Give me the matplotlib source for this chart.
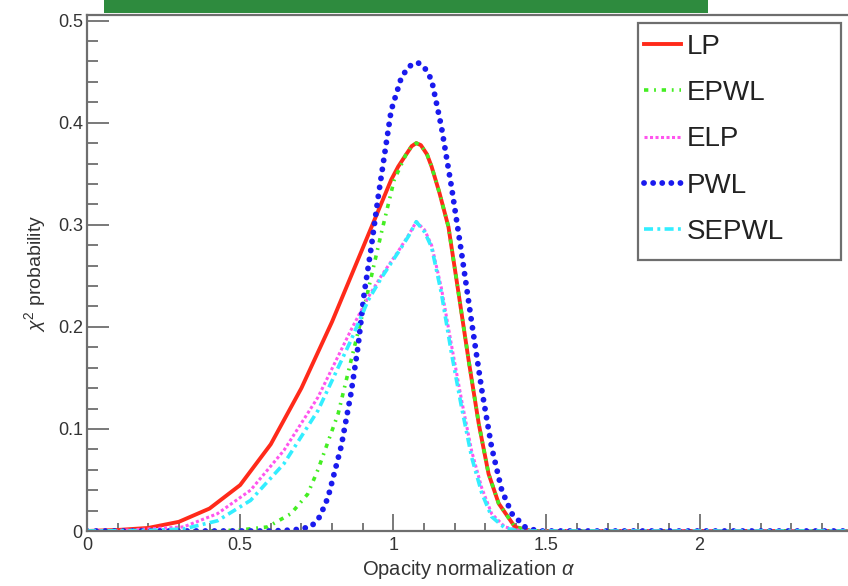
import matplotlib
matplotlib.use("Agg")
import matplotlib.pyplot as plt
from matplotlib.patches import Rectangle
from matplotlib.ticker import MultipleLocator

plt.rcParams['font.family'] = ['Liberation Sans', 'DejaVu Sans']
plt.rcParams['mathtext.fontset'] = 'custom'
plt.rcParams['mathtext.rm'] = 'Liberation Sans'
plt.rcParams['mathtext.it'] = 'Liberation Sans:italic'

# values
lp_x = [0, 0.1, 0.2, 0.3, 0.4, 0.5, 0.6, 0.7, 0.8, 0.9, 0.961, 0.993, 1.016, 1.04, 1.06, 1.075,
        1.09, 1.11, 1.125, 1.15, 1.18, 1.213, 1.246, 1.279, 1.311, 1.344, 1.397, 1.45, 2.5]
lp_y = [0, 0.001, 0.003, 0.009, 0.022, 0.045, 0.085, 0.140, 0.205, 0.277, 0.321, 0.344, 0.357, 0.368, 0.377, 0.380,
        0.378, 0.369, 0.357, 0.332, 0.298, 0.233, 0.167, 0.105, 0.056, 0.027, 0.004, 0.0, 0.0]

epwl_x = [0, 0.4, 0.5, 0.59, 0.666, 0.72, 0.754, 0.82, 0.862, 0.905, 0.961, 1.003, 1.04, 1.06, 1.075,
          1.09, 1.11, 1.125, 1.15, 1.18, 1.213, 1.246, 1.279, 1.311, 1.344, 1.397, 1.45, 2.5]
epwl_y = [0, 0.0, 0.001, 0.004, 0.017, 0.036, 0.060, 0.115, 0.167, 0.219, 0.292, 0.344, 0.368, 0.377, 0.380,
          0.378, 0.369, 0.357, 0.332, 0.298, 0.233, 0.167, 0.105, 0.056, 0.027, 0.004, 0.0, 0.0]

elp_x = [0, 0.1, 0.2, 0.315, 0.426, 0.534, 0.643, 0.754, 0.862, 0.918, 0.961, 1.016, 1.05, 1.075,
         1.102, 1.125, 1.157, 1.19, 1.223, 1.256, 1.289, 1.321, 1.364, 1.42, 2.5]
elp_y = [0, 0.0005, 0.002, 0.004, 0.017, 0.040, 0.079, 0.131, 0.197, 0.229, 0.250, 0.274, 0.290, 0.303,
         0.295, 0.280, 0.238, 0.182, 0.128, 0.078, 0.042, 0.017, 0.004, 0.0, 0.0]

pwl_x = [0, 0.6, 0.675, 0.731, 0.76, 0.787, 0.83, 0.862, 0.885, 0.905, 0.928, 0.951, 0.993, 1.026, 1.05,
         1.079, 1.10, 1.125, 1.157, 1.19, 1.223, 1.256, 1.289, 1.321, 1.354, 1.387, 1.43, 1.47, 2.5]
pwl_y = [0, 0.0, 0.001, 0.004, 0.014, 0.033, 0.083, 0.135, 0.181, 0.233, 0.278, 0.328, 0.412, 0.444, 0.455,
         0.459, 0.455, 0.442, 0.396, 0.337, 0.272, 0.204, 0.138, 0.082, 0.040, 0.017, 0.004, 0.0, 0.0]

sepwl_x = [0, 0.2, 0.315, 0.426, 0.534, 0.643, 0.754, 0.862, 0.918, 0.961, 1.016, 1.05, 1.075,
           1.102, 1.125, 1.157, 1.19, 1.223, 1.256, 1.289, 1.321, 1.364, 1.41, 2.5]
sepwl_y = [0, 0.0005, 0.002, 0.010, 0.030, 0.066, 0.118, 0.187, 0.226, 0.248, 0.273, 0.289, 0.303,
           0.293, 0.278, 0.233, 0.174, 0.121, 0.072, 0.037, 0.014, 0.003, 0.0, 0.0]

fig = plt.figure(figsize=(8.48, 5.86), dpi=100)
ax = fig.add_axes([87 / 848, 55 / 586, 1 - 87 / 848 + 0.002, (531 - 15) / 586])

ax.plot(lp_x, lp_y, color='#ff2a1a', lw=2.8, label='LP')
ax.plot(epwl_x, epwl_y, color='#44ee22', lw=2.6, ls=(0, (1.2, 1.6, 0.5, 1.6)), label='EPWL')
ax.plot(elp_x, elp_y, color='#ff55ee', lw=2.2, ls=(0, (1, 0.8)), label='ELP')
ax.plot(pwl_x, pwl_y, color='#1a1aee', lw=4.2, ls=(0, (0.01, 1.55)), dash_capstyle='round', label='PWL')
ax.plot(sepwl_x, sepwl_y, color='#33eeff', lw=2.6, ls=(0, (2.5, 1.2, 0.8, 1.2)), label='SEPWL')

ax.set_xlim(0, 2.49)
ax.set_ylim(0, 0.5055)
ax.xaxis.set_major_locator(MultipleLocator(0.5))
ax.xaxis.set_minor_locator(MultipleLocator(0.1))
ax.yaxis.set_major_locator(MultipleLocator(0.1))
ax.yaxis.set_minor_locator(MultipleLocator(0.02))
ax.xaxis.set_major_formatter(plt.FuncFormatter(lambda v, p: '%g' % round(v, 2)))
ax.yaxis.set_major_formatter(plt.FuncFormatter(lambda v, p: '%g' % round(v, 2)))

spine_col = '#6e6e6e'
for s in ['left', 'bottom', 'top']:
    ax.spines[s].set_color(spine_col)
    ax.spines[s].set_linewidth(1.6)
ax.spines['right'].set_visible(False)

ax.tick_params(axis='y', which='major', direction='in', length=16, width=1.3, color=spine_col,
               labelsize=13, labelcolor='#333333', pad=3)
ax.tick_params(axis='y', which='minor', direction='in', length=8, width=1.3, color=spine_col)
ax.tick_params(axis='x', which='major', direction='in', length=12, width=1.3, color=spine_col,
               labelsize=13, labelcolor='#333333', pad=4)
ax.tick_params(axis='x', which='minor', direction='in', length=6, width=1.3, color=spine_col)

ax.set_xlabel('Opacity normalization $\\alpha$', fontsize=14.5, color='#333333', labelpad=3)
ax.set_ylabel('$\\chi^2$ probability', fontsize=14, color='#333333', labelpad=7)

# legend box with fixed size, entries drawn without frame
ax.add_patch(Rectangle((638 / 848, 1 - 260 / 586), (841 - 638) / 848, (260 - 23) / 586,
                       transform=fig.transFigure, facecolor='white', edgecolor='#6e6e6e',
                       linewidth=1.6, zorder=4, clip_on=False))
leg = ax.legend(loc='upper left', bbox_to_anchor=(641 / 848, 1 - 31 / 586), bbox_transform=fig.transFigure,
                fontsize=20, frameon=False, handlelength=1.35, handletextpad=0.2,
                labelspacing=0.73, borderpad=0.1, borderaxespad=0)
leg.set_zorder(5)
for t in leg.get_texts():
    t.set_color('#222222')

# green banner cut off at the top
fig.patches.append(Rectangle((104 / 848, 1 - 13 / 586), (708 - 104) / 848, 13 / 586,
                             transform=fig.transFigure, facecolor='#2e8b3e', edgecolor='none'))

fig.savefig('out.png', dpi=100)
